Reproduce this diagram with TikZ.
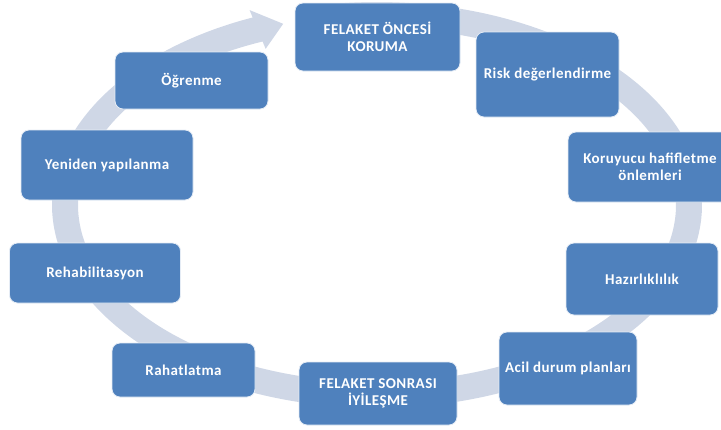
\documentclass[tikz,border=0pt]{standalone}
\usepackage{fontspec}
\setmainfont{Carlito}[LetterSpace=3]
\definecolor{boxblue}{HTML}{4F81BD}
\definecolor{ringcol}{HTML}{CFD7E6}
\begin{document}
\begin{tikzpicture}[x=1pt,y=-1pt,
  stage/.style={draw=white!85!boxblue, line width=0.8pt, fill=boxblue, rounded corners=8pt,
    text=white, font=\bfseries\fontsize{15}{17}\selectfont, align=center, inner sep=0pt}]
\useasboundingbox (0,0) rectangle (721,429);
\clip (0,0) rectangle (721,429);
% ring
\def\cx{377}\def\cy{205}\def\rx{312}\def\ry{190}
\fill[ringcol]
  plot[domain=104:-247.5, samples=160, smooth] ({\cx+(\rx+13)*cos(\x)},{\cy-(\ry+13)*sin(\x)})
  -- ({\cx+(\rx+21)*cos(-247.5)},{\cy-(\ry+21)*sin(-247.5)})
  -- ({\cx+\rx*cos(-252.5)},{\cy-\ry*sin(-252.5)})
  -- ({\cx+(\rx-21)*cos(-247.5)},{\cy-(\ry-21)*sin(-247.5)})
  -- plot[domain=-247.5:104, samples=160, smooth] ({\cx+(\rx-13)*cos(\x)},{\cy-(\ry-13)*sin(\x)})
  -- cycle;
% boxes
\node[stage, minimum width=165, minimum height=68] (n1) at (377.5,37) {FELAKET ÖNCESİ\\KORUMA};
\node[stage, minimum width=143, minimum height=85] (n2) at (547.5,74.5) {Risk değerlendirme};
\node[stage, minimum width=164, minimum height=70] (n3) at (650,167) {Koruyucu hafifletme\\önlemleri};
\node[stage, minimum width=152, minimum height=72] (n4) at (642,279) {Hazırlıklılık};
\node[stage, minimum width=138, minimum height=73] (n5) at (568,368.5) {Acil durum planları};
\node[stage, minimum width=158, minimum height=63] (n6) at (378,393.5) {FELAKET SONRASI\\İYİLEŞME};
\node[stage, minimum width=143, minimum height=54] (n7) at (183.5,370) {Rahatlatma};
\node[stage, minimum width=171, minimum height=60] (n8) at (95,273) {Rehabilitasyon};
\node[stage, minimum width=172, minimum height=70] (n9) at (107,165) {Yeniden yapılanma};
\node[stage, minimum width=153, minimum height=57] (n10) at (191.5,80.5) {Öğrenme};
\end{tikzpicture}
\end{document}
